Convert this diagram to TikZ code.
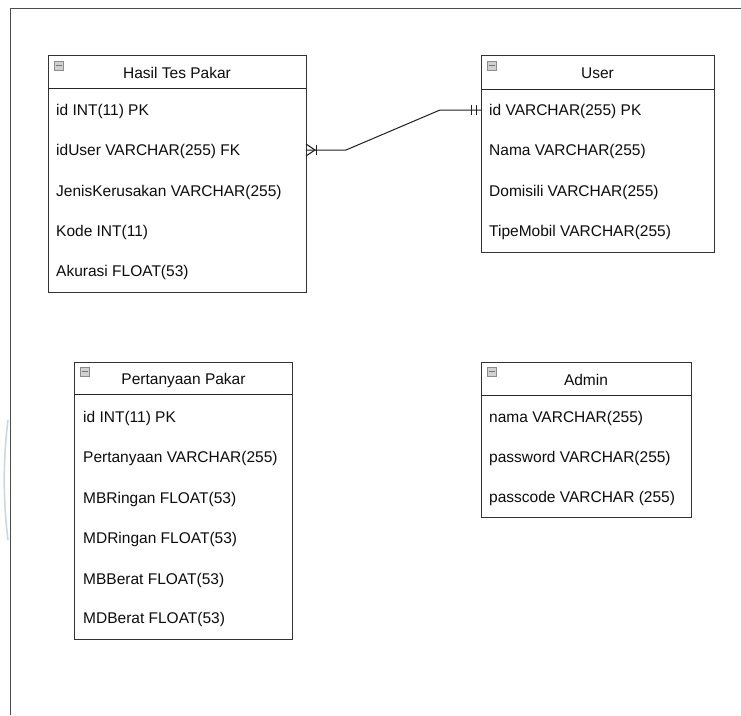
\documentclass[tikz,border=0pt]{standalone}
\usepackage{fontspec}
\setmainfont{Liberation Sans}
\usetikzlibrary{calc}
\definecolor{wmark}{RGB}{205,215,228}
\begin{document}
\begin{tikzpicture}[x=1pt,y=-1pt,
  tbl/.style={draw=black!80, line width=0.9pt, fill=white, anchor=north west, inner sep=0pt, outer sep=0pt},
  hdrline/.style={draw=black!85, line width=0.9pt},
  ttl/.style={anchor=center, font=\fontsize{15.5}{18}\selectfont, text=black!95, inner sep=0pt},
  fld/.style={anchor=west, font=\fontsize{15.5}{18}\selectfont, text=black!95, inner sep=0pt},
  icon/.style={draw=black!45, fill=black!18, line width=0.6pt, minimum size=9pt, inner sep=0pt, anchor=north west},
  rel/.style={draw=black!88, line width=1pt},
  frame/.style={draw=black!70, line width=0.8pt}
]
\useasboundingbox (0,0) rectangle (741,715);
\fill[white] (0,0) rectangle (741,715);
% page frame
\draw[frame] (741,8) -- (10,8) -- (10,715);
% faint watermark arc
\draw[line width=1.6pt, color=wmark] (8,420) .. controls (3,460) and (3,500) .. (8,540);

% ---------- Hasil Tes Pakar ----------
\node[tbl, minimum width=258pt, minimum height=237pt] (hasil) at (48,55) {};
\draw[hdrline] (48,88) -- (306,88);
\node[icon] (hicon) at (54,61) {};
\draw[black!55, line width=1pt] ($(hicon.west)+(2,0)$) -- ($(hicon.east)+(-2,0)$);
\node[ttl] (htitle) at (177,73) {Hasil Tes Pakar};
\node[fld] (h1) at (56,111) {id INT(11) PK};
\node[fld] (h2) at (56,151) {idUser VARCHAR(255) FK};
\node[fld] (h3) at (56,192) {JenisKerusakan VARCHAR(255)};
\node[fld] (h4) at (56,232) {Kode INT(11)};
\node[fld] (h5) at (56,272) {Akurasi FLOAT(53)};

% ---------- User ----------
\node[tbl, minimum width=233pt, minimum height=197pt] (user) at (481,55) {};
\draw[hdrline] (481,89) -- (714,89);
\node[icon] (uicon) at (487,61) {};
\draw[black!55, line width=1pt] ($(uicon.west)+(2,0)$) -- ($(uicon.east)+(-2,0)$);
\node[ttl] (utitle) at (597.5,73) {User};
\node[fld] (u1) at (489,111) {id VARCHAR(255) PK};
\node[fld] (u2) at (489,151) {Nama VARCHAR(255)};
\node[fld] (u3) at (489,192) {Domisili VARCHAR(255)};
\node[fld] (u4) at (489,232) {TipeMobil VARCHAR(255)};

% ---------- Pertanyaan Pakar ----------
\node[tbl, minimum width=218pt, minimum height=277pt] (tanya) at (74,362) {};
\draw[hdrline] (74,394) -- (292,394);
\node[icon] (ticon) at (80,367) {};
\draw[black!55, line width=1pt] ($(ticon.west)+(2,0)$) -- ($(ticon.east)+(-2,0)$);
\node[ttl] (ttitle) at (183.5,380) {Pertanyaan Pakar};
\node[fld] (t1) at (83,418) {id INT(11) PK};
\node[fld] (t2) at (83,458) {Pertanyaan VARCHAR(255)};
\node[fld] (t3) at (83,499) {MBRingan FLOAT(53)};
\node[fld] (t4) at (83,539) {MDRingan FLOAT(53)};
\node[fld] (t5) at (83,580) {MBBerat FLOAT(53)};
\node[fld] (t6) at (83,619) {MDBerat FLOAT(53)};

% ---------- Admin ----------
\node[tbl, minimum width=210pt, minimum height=155pt] (admin) at (481,362) {};
\draw[hdrline] (481,395) -- (691,395);
\node[icon] (aicon) at (487,367) {};
\draw[black!55, line width=1pt] ($(aicon.west)+(2,0)$) -- ($(aicon.east)+(-2,0)$);
\node[ttl] (atitle) at (586,380) {Admin};
\node[fld] (a1) at (489,418) {nama VARCHAR(255)};
\node[fld] (a2) at (489,458) {password VARCHAR(255)};
\node[fld] (a3) at (489,498) {passcode VARCHAR (255)};

% ---------- relationship ----------
\coordinate (hfk) at (hasil.east |- 0,150);
\coordinate (upk) at (user.west |- 0,110);
\coordinate (bend1) at (346,150);
\coordinate (bend2) at (440,110);
\draw[rel] (hfk) -- (bend1) -- (bend2) -- (upk);
% one-or-many at Hasil Tes Pakar
\draw[rel] ($(hfk)+(0,-6)$) -- ($(hfk)+(9,0)$) -- ($(hfk)+(0,6)$);
\draw[rel] ($(hfk)+(10,-5)$) -- ($(hfk)+(10,5)$);
% mandatory one at User
\draw[rel] ($(upk)+(-10,-5)$) -- ($(upk)+(-10,5)$);
\draw[rel] ($(upk)+(-5,-5)$) -- ($(upk)+(-5,5)$);
\end{tikzpicture}
\end{document}
